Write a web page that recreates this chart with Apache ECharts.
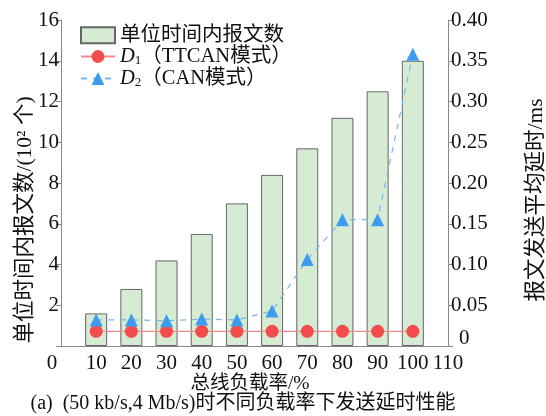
<!DOCTYPE html>
<html><head><meta charset="utf-8">
<script src="https://cdn.jsdelivr.net/npm/echarts@6/dist/echarts.min.js"></script>
<style>html,body{margin:0;padding:0;background:#fff}#c{width:546px;height:416px}</style>
</head><body><div id="c"></div>
<script>
const loadRates = [10, 20, 30, 40, 50, 60, 70, 80, 90, 100];
const msgCounts = [1.6, 2.8, 4.2, 5.5, 7.0, 8.4, 9.7, 11.2, 12.5, 14.0];
const delayTTCAN = [0.018, 0.018, 0.018, 0.018, 0.018, 0.018, 0.018, 0.018, 0.018, 0.018];
const delayCAN = [0.032, 0.032, 0.031, 0.033, 0.032, 0.043, 0.106, 0.155, 0.155, 0.358];
const seriesNames = ['单位时间内报文数', 'D1', 'D2'];
const xAxisName = '总线负载率/%';
const leftAxisName = '单位时间内报文数/(10² 个)';
const rightAxisName = '报文发送平均延时/ms';
const caption = '(a)  (50 kb/s,4 Mb/s)时不同负载率下发送延时性能';

const FONT = '"Liberation Serif", "Noto Sans CJK SC", serif';
const FS = 21;
const AX = '#888';
const zip = (xs, ys) => xs.map((x, i) => [x, ys[i]]);

const chart = echarts.init(document.getElementById('c'));
chart.setOption({
  animation: false,
  textStyle: { fontFamily: FONT, color: '#111' },
  grid: { left: 61, right: 98, top: 20, bottom: 70 },
  graphic: [{
    type: 'text', x: 250, y: 384, silent: true,
    style: { text: xAxisName, font: '19.5px ' + FONT, fill: '#111', align: 'center', verticalAlign: 'middle' }
  }, {
    type: 'text', x: 243, y: 404, silent: true,
    style: { text: caption, font: '20px ' + FONT, fill: '#111', align: 'center', verticalAlign: 'middle' }
  }, {
    type: 'text', x: 25, y: 220, rotation: Math.PI / 2, silent: true,
    style: { text: leftAxisName, font: '21.5px ' + FONT, fill: '#111', align: 'center', verticalAlign: 'middle' }
  }, {
    type: 'text', x: 536, y: 200, rotation: Math.PI / 2, silent: true,
    style: { text: rightAxisName, font: '21.5px ' + FONT, fill: '#111', align: 'center', verticalAlign: 'middle' }
  }],
  legend: {
    orient: 'vertical', left: 75, top: 20, itemGap: 0,
    itemWidth: 34, itemHeight: 16,
    data: [{ name: seriesNames[0], icon: 'rect' }, seriesNames[1], seriesNames[2]],
    formatter: function (n) {
      if (n === 'D1') return '{i|D}{s|1}{n|（TTCAN模式）}';
      if (n === 'D2') return '{i|D}{s|2}{n|（CAN模式）}';
      return '{n|' + n + '}';
    },
    textStyle: {
      fontFamily: FONT, fontSize: 20.5, color: '#111',
      rich: {
        n: { fontFamily: FONT, fontSize: 20.5, lineHeight: 22, color: '#111' },
        i: { fontFamily: FONT, fontSize: 20.5, fontStyle: 'italic', lineHeight: 22, color: '#111' },
        s: { fontFamily: FONT, fontSize: 13, lineHeight: 22, verticalAlign: 'bottom', padding: [9, 0, 0, 0], color: '#111' }
      }
    }
  },
  xAxis: {
    type: 'value', min: 0, max: 110, interval: 10,
    axisLine: { show: true, lineStyle: { color: AX, width: 1 } },
    axisTick: { show: false },
    splitLine: { show: false },
    axisLabel: {
      fontFamily: FONT, fontSize: FS, color: '#111', margin: 7,
      formatter: v => v === 0 ? '{z|0}' : String(v),
      rich: { z: { fontFamily: FONT, fontSize: FS, color: '#111', padding: [0, 18, 0, 0] } }
    }
  },
  yAxis: [{
    type: 'value', min: 0, max: 16, interval: 2,
    axisLine: { show: true, lineStyle: { color: AX, width: 1 } },
    axisTick: { show: true, length: 5, lineStyle: { color: AX } },
    splitLine: { show: false },
    axisLabel: {
      fontFamily: FONT, fontSize: FS, color: '#111', margin: 2,
      formatter: v => v === 0 ? '' : String(v)
    }
  }, {
    type: 'value', min: 0, max: 0.4, interval: 0.05, position: 'right',
    axisLine: { show: true, lineStyle: { color: AX, width: 1 } },
    axisTick: { show: true, length: 5, lineStyle: { color: AX } },
    splitLine: { show: false },
    axisLabel: {
      fontFamily: FONT, fontSize: FS, color: '#111', margin: 3,
      formatter: v => v === 0 ? '{z|0}' : v.toFixed(2),
      rich: { z: { fontFamily: FONT, fontSize: FS, color: '#111', padding: [0, 0, 16, 8] } }
    }
  }],
  series: [{
    name: seriesNames[0], type: 'bar', yAxisIndex: 0,
    data: zip(loadRates, msgCounts), barWidth: 22,
    itemStyle: { color: '#d5ebd3', borderColor: '#666', borderWidth: 1 }
  }, {
    name: seriesNames[1], type: 'line', yAxisIndex: 1,
    data: zip(loadRates, delayTTCAN),
    symbol: 'circle', symbolSize: 13,
    itemStyle: { color: '#f44c4c' },
    lineStyle: { color: '#f28a8a', width: 1.2 }
  }, {
    name: seriesNames[2], type: 'line', yAxisIndex: 1,
    data: zip(loadRates, delayCAN),
    symbol: 'triangle', symbolSize: 13,
    itemStyle: { color: '#3f9bef' },
    lineStyle: { color: '#7ab6ea', width: 1.2, type: [6, 6] }
  }]
});
</script></body></html>
